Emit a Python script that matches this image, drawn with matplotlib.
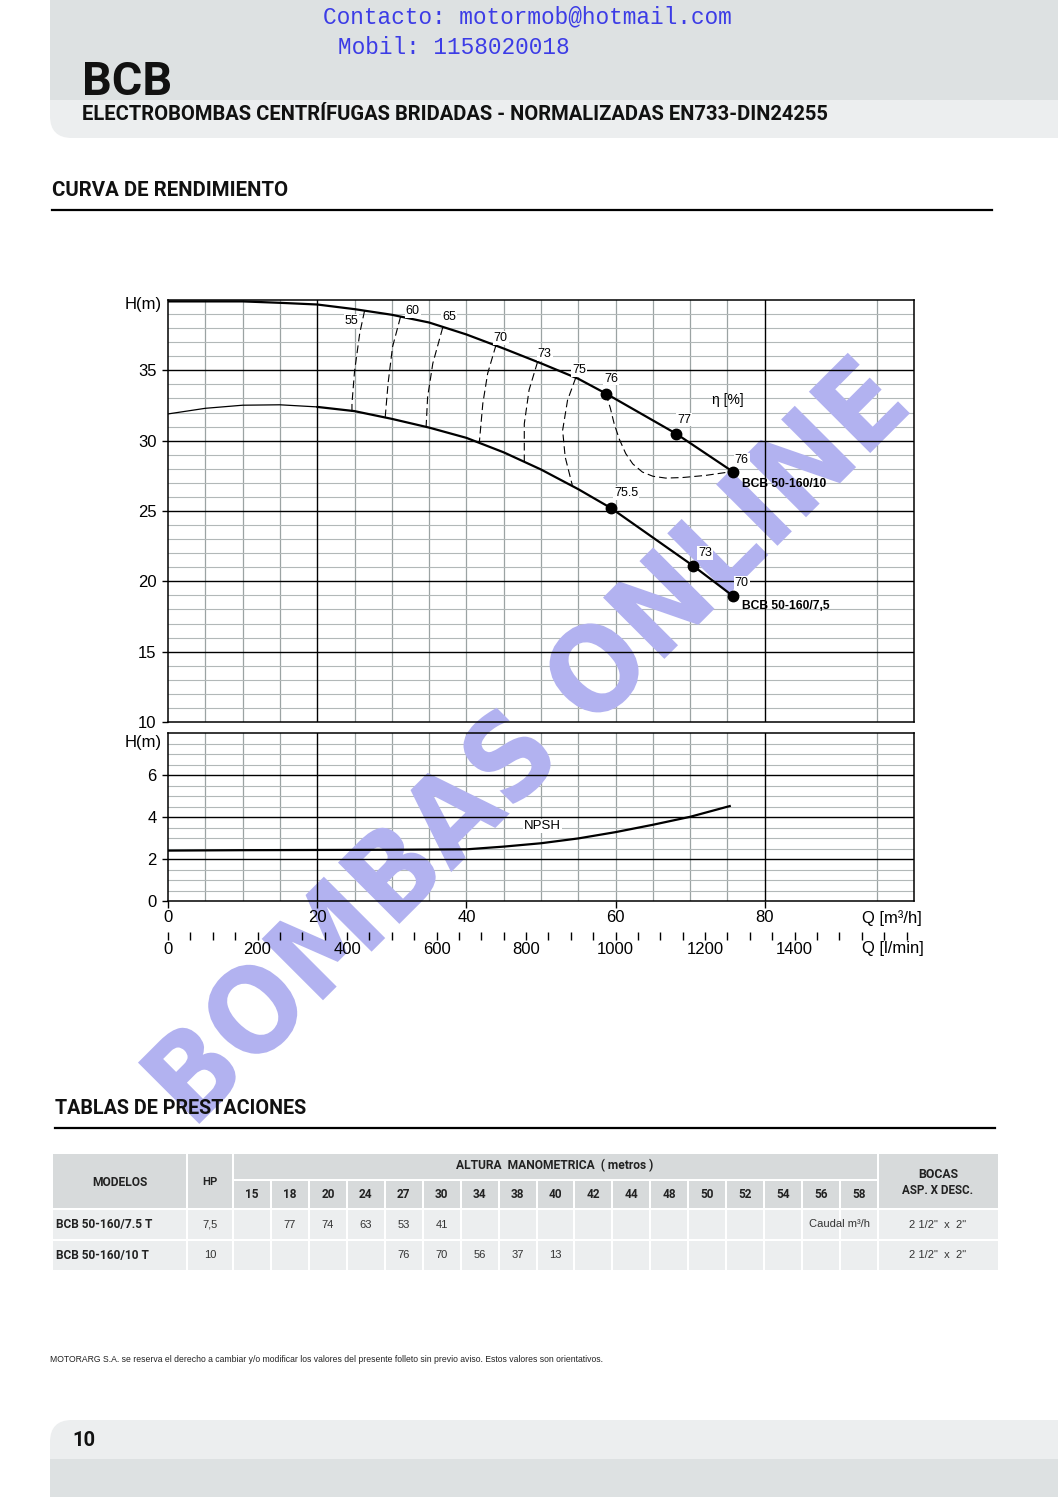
import numpy as np
import matplotlib
matplotlib.use('Agg')
import matplotlib.pyplot as plt
from matplotlib.patches import Rectangle, FancyBboxPatch, PathPatch
from matplotlib.textpath import TextPath
from matplotlib.font_manager import FontProperties
import matplotlib.transforms as mtransforms

plt.rcParams['font.family'] = ['Liberation Sans', 'DejaVu Sans']

# ---------------- DATA ----------------
# Pump curve BCB 50-160/10 (Q m3/h, H m)
q_10 = [0, 5, 10, 15, 20, 25, 30, 35, 40, 45, 50, 55, 58.7, 68.1, 75.7]
h_10 = [39.9, 39.9, 39.9, 39.8, 39.68, 39.35, 38.95, 38.4, 37.55, 36.55, 35.5, 34.4, 33.35, 30.5, 27.8]
# Pump curve BCB 50-160/7,5
q_75 = [0, 5, 10, 15, 20, 25, 30, 35, 40, 45, 50, 55, 59.4, 70.4, 75.7]
h_75 = [31.9, 32.3, 32.52, 32.55, 32.4, 32.1, 31.55, 30.93, 30.2, 29.17, 27.95, 26.55, 25.2, 21.1, 18.97]
# marked efficiency points
mq_10 = [58.7, 68.1, 75.7]; mh_10 = [33.35, 30.5, 27.8]; me_10 = ['76', '77', '76']
mq_75 = [59.4, 70.4, 75.7]; mh_75 = [25.2, 21.1, 18.97]; me_75 = ['75.5', '73', '70']
# iso-efficiency lines
iso_labels = ['55', '60', '65', '70', '73', '75']
iso_q = [[26.35, 25.7, 25.0, 24.66, 24.66],
         [31.17, 30.1, 29.5, 29.12],
         [36.83, 35.5, 34.8, 34.6],
         [43.97, 42.85, 42.2, 41.74],
         [49.54, 48.4, 47.76, 47.76],
         [54.67, 53.56, 52.9, 53.24, 54.2]]
iso_h = [[39.24, 37.63, 34.9, 32.64, 32.05],
         [38.81, 36.67, 34.07, 31.69],
         [38.05, 35.5, 33.1, 30.98],
         [36.8, 34.78, 32.64, 29.91],
         [35.6, 33.6, 31.2, 28.55],
         [34.49, 32.88, 30.74, 28.84, 26.82]]
iso_lab_q = [24.6, 32.8, 37.7, 44.6, 50.5, 55.1]
iso_lab_h = [38.53, 39.24, 38.77, 37.3, 36.13, 35.0]
loop76_q = [58.7, 59.3, 59.8, 60.5, 61.36, 62.3, 63.59, 65.0, 66.71, 69.0, 72.07, 75.18]
loop76_h = [33.35, 32.3, 31.22, 30.1, 29.08, 28.35, 27.77, 27.47, 27.34, 27.38, 27.53, 27.77]
# NPSH
npsh_q = [0, 10, 20, 30, 40, 45, 50, 55, 60, 65, 70, 75.3]
npsh_h = [2.4, 2.42, 2.43, 2.44, 2.46, 2.59, 2.75, 2.98, 3.28, 3.63, 4.01, 4.52]

# Table
heights = [15, 18, 20, 24, 27, 30, 34, 38, 40, 42, 44, 48, 50, 52, 54, 56, 58]
models = ['BCB 50-160/7.5 T', 'BCB 50-160/10 T']
hp = ['7,5', '10']
flows = [[None, 77, 74, 63, 53, 41] + [None] * 11,
         [None] * 4 + [76, 70, 56, 37, 13] + [None] * 8]
bocas = ['2 1/2"  x  2"', '2 1/2"  x  2"']

# ---------------- FIGURE ----------------
W, H = 1058, 1497
fig = plt.figure(figsize=(W / 100, H / 100), dpi=100)
fig.patch.set_facecolor('white')
DARK = '#dde1e2'
LIGHT = '#eceeef'
GRID_V = '#9ba3a3'
GRID_H = '#b2b8b8'
WM = '#b2b2f0'


def rect_px(x0, y0, x1, y1):
    return [x0 / W, 1 - y1 / H, (x1 - x0) / W, (y1 - y0) / H]


def page_axes(z):
    a = fig.add_axes([0, 0, 1, 1], zorder=z)
    a.set_xlim(0, W)
    a.set_ylim(H, 0)
    a.axis('off')
    return a


bg = page_axes(0)
top = page_axes(5)
renderer = fig.canvas.get_renderer()


def fit(t, target):
    w = t.get_window_extent(renderer).width
    t.set_fontsize(t.get_fontsize() * target / w)


# header bands
bg.add_patch(FancyBboxPatch((50, -80), 1200, 218, boxstyle='round,pad=0,rounding_size=22',
                            fc=LIGHT, ec='none'))
bg.add_patch(Rectangle((50, -5), 1100, 105, fc=DARK, ec='none'))
# footer bands
bg.add_patch(FancyBboxPatch((50, 1420), 1200, 200, boxstyle='round,pad=0,rounding_size=22',
                            fc=LIGHT, ec='none'))
bg.add_patch(Rectangle((50, 1459), 1100, 60, fc=DARK, ec='none'))

t = top.text(323, 17, 'Contacto: motormob@hotmail.com', family='Liberation Mono',
             color='#3c3ce6', fontsize=16, ha='left', va='center')
fit(t, 412)
t = top.text(338, 47, 'Mobil: 1158020018', family='Liberation Mono',
             color='#3c3ce6', fontsize=16, ha='left', va='center')
fit(t, 233)
t = top.text(82, 95, 'BCB', family='Roboto', weight='bold', fontsize=33,
             ha='left', va='baseline', color='#111111')
fit(t, 90)
t = top.text(82, 114, 'ELECTROBOMBAS CENTRÍFUGAS BRIDADAS - NORMALIZADAS EN733-DIN24255',
             family='Roboto', weight='bold', fontsize=14, ha='left', va='center', color='#111111')
fit(t, 748)
t = top.text(52, 190, 'CURVA DE RENDIMIENTO', family='Roboto', weight='bold', fontsize=13,
             ha='left', va='center', color='#111111')
fit(t, 234)
top.plot([52, 992], [210, 210], color='black', lw=1.6)
t = top.text(55, 1109, 'TABLAS DE PRESTACIONES', family='Roboto', weight='bold', fontsize=13,
             ha='left', va='center', color='#111111')
fit(t, 251)
top.plot([55, 995], [1128, 1128], color='black', lw=1.6)

# ---------------- CHART: H-Q ----------------
v_minor = [5, 10, 15, 25, 30, 35, 40, 45, 50, 55, 60, 65, 70, 75, 95]
v_major = [20, 80]
main_box = rect_px(168, 300, 914, 722)
npsh_box = rect_px(168, 733, 914, 901)

axm_g = fig.add_axes(main_box, zorder=1)
axm_g.set_xlim(0, 100); axm_g.set_ylim(10, 40); axm_g.axis('off')
for v in v_minor:
    axm_g.axvline(v, color=GRID_V, lw=0.9)
for hh in range(11, 40):
    if hh % 5:
        axm_g.axhline(hh, color=GRID_H, lw=0.8)

axn_g = fig.add_axes(npsh_box, zorder=1)
axn_g.set_xlim(0, 100); axn_g.set_ylim(0, 8); axn_g.axis('off')
for v in v_minor:
    axn_g.axvline(v, color=GRID_V, lw=0.9)
for hh in np.arange(0.5, 8, 0.5):
    if hh % 2:
        axn_g.axhline(hh, color=GRID_H, lw=0.8)

# watermark
wm = fig.add_axes([0, 0, 1, 1], zorder=2)
wm.set_xlim(0, W); wm.set_ylim(0, H); wm.axis('off')
tp = TextPath((0, 0), 'BOMBAS ONLINE', size=100,
              prop=FontProperties(family='DejaVu Sans', weight='bold'))
ext = tp.get_extents()
tr = (mtransforms.Affine2D()
      .translate(-(ext.x0 + ext.width / 2), -(ext.y0 + ext.height / 2))
      .scale(1005 / ext.width, 90 / ext.height)
      .rotate_deg(45)
      .translate(524, H - 738))
wm.add_patch(PathPatch(tr.transform_path(tp), fc=WM, ec='none'))

# overlay axes
axm = fig.add_axes(main_box, zorder=3)
axm.set_facecolor('none')
axm.set_xlim(0, 100); axm.set_ylim(10, 40)
for v in v_major:
    axm.axvline(v, color='black', lw=1.0, zorder=1)
for hh in [15, 20, 25, 30, 35]:
    axm.axhline(hh, color='black', lw=1.0, zorder=1)
axm.set_xticks([])
axm.set_yticks([10, 15, 20, 25, 30, 35])
axm.tick_params(axis='y', direction='out', length=4, width=1, labelsize=12, pad=4.3)
for s in axm.spines.values():
    s.set_linewidth(1.1)

# curves
axm.plot(q_10, h_10, color='black', lw=1.6, zorder=4, solid_capstyle='round')
axm.plot(q_75[:5], h_75[:5], color='black', lw=0.9, zorder=4)
axm.plot(q_75[4:], h_75[4:], color='black', lw=1.6, zorder=4, solid_capstyle='round')
dash = (0, (7, 3.6))
for qq, hh in zip(iso_q, iso_h):
    axm.plot(qq, hh, color='black', lw=0.8, ls=dash, zorder=3)
axm.plot(loop76_q, loop76_h, color='black', lw=0.8, ls=dash, zorder=3)
box = dict(fc='white', ec='none', pad=0.6)
for lab, qx, hy in zip(iso_labels, iso_lab_q, iso_lab_h):
    axm.text(qx, hy, lab, fontsize=9, ha='center', va='center', bbox=box, zorder=5)

axm.plot(mq_10, mh_10, 'o', color='black', ms=7.5, zorder=6)
axm.plot(mq_75, mh_75, 'o', color='black', ms=7.5, zorder=6)
offs_10 = [(3.6, 10.8), (5.8, 10.1), (6.5, 8.6)]
offs_75 = [(10.8, 10.8), (8.6, 9.4), (6.5, 9.4)]
for qx, hy, lab, off in zip(mq_10, mh_10, me_10, offs_10):
    axm.annotate(lab, (qx, hy), xytext=off, textcoords='offset points', fontsize=9,
                 ha='center', va='center', bbox=box, zorder=5)
for qx, hy, lab, off in zip(mq_75, mh_75, me_75, offs_75):
    axm.annotate(lab, (qx, hy), xytext=off, textcoords='offset points', fontsize=9,
                 ha='center', va='center', bbox=box, zorder=5)
axm.text(75.1, 32.88, 'η [%]', fontsize=10, ha='center', va='center', zorder=5)
axm.text(76.96, 26.94, 'BCB 50-160/10', fontsize=8.7, weight='bold', ha='left',
         va='center', zorder=5)
axm.text(76.96, 18.28, 'BCB 50-160/7,5', fontsize=8.7, weight='bold', ha='left',
         va='center', zorder=5)

# ---------------- CHART: NPSH ----------------
axn = fig.add_axes(npsh_box, zorder=3)
axn.set_facecolor('none')
axn.set_xlim(0, 100); axn.set_ylim(0, 8)
for v in v_major:
    axn.axvline(v, color='black', lw=1.0, zorder=1)
for hh in [2, 4, 6]:
    axn.axhline(hh, color='black', lw=1.0, zorder=1)
axn.set_yticks([0, 2, 4, 6])
axn.set_xticks([0, 20, 40, 60, 80])
axn.tick_params(axis='y', direction='out', length=4, width=1, labelsize=12, pad=4.3)
axn.tick_params(axis='x', direction='out', length=5, width=1, labelsize=12, pad=1.5)
for s in axn.spines.values():
    s.set_linewidth(1.1)
axn.plot(npsh_q, npsh_h, color='black', lw=1.6, zorder=4)
axn.text(50.2, 3.57, 'NPSH', fontsize=9.5, ha='center', va='center', bbox=box, zorder=5)

# l/min axis
axl = fig.add_axes(rect_px(168, 931, 914, 932), zorder=3)
axl.set_facecolor('none')
axl.set_xlim(0, 100 * 1000 / 60)
axl.set_yticks([])
for s in axl.spines.values():
    s.set_visible(False)
lmin_major = [0, 200, 400, 600, 800, 1000, 1200, 1400]
lmin_minor = [v for v in range(0, 1651, 50) if v not in lmin_major]
axl.set_xticks(lmin_major)
axl.set_xticklabels([str(v) for v in lmin_major])
axl.set_xticks(lmin_minor, minor=True)
axl.tick_params(axis='x', which='both', direction='out', length=6, width=1, labelsize=12, pad=1.5)

top.text(162, 304, 'H(m)', fontsize=12, ha='right', va='center')
top.text(162, 743, 'H(m)', fontsize=12, ha='right', va='center')
top.text(862, 918, 'Q [m³/h]', fontsize=12, ha='left', va='center')
top.text(862, 949, 'Q [l/min]', fontsize=12, ha='left', va='center')

# ---------------- TABLE ----------------
HDR = '#d7dadb'
ROW = '#eceeef'
a0, a1 = 232, 877
aw = (a1 - a0) / len(heights)
y_h0, y_hm, y_h1 = 1154, 1179, 1208
rows_y = [(1210, 1239), (1241, 1270)]


def cell(x0, y0, x1, y1, c):
    bg.add_patch(Rectangle((x0, y0), x1 - x0, y1 - y0, fc=c, ec='none'))


cell(53, y_h0, 186, y_h1, HDR)
cell(188, y_h0, 232, y_h1, HDR)
cell(234, y_h0, 877, y_hm, HDR)
cell(879, y_h0, 998, y_h1, HDR)
for i in range(len(heights)):
    cell(a0 + i * aw + 2, y_hm + 2, a0 + (i + 1) * aw, y_h1, HDR)
for (r0, r1) in rows_y:
    cell(53, r0, 186, r1, ROW)
    cell(188, r0, 232, r1, ROW)
    cell(879, r0, 998, r1, ROW)
    for i in range(len(heights)):
        cell(a0 + i * aw + 2, r0, a0 + (i + 1) * aw, r1, ROW)

hfont = dict(family='Roboto', weight='bold', color='#222222')
t = top.text(120, 1182, 'MODELOS', fontsize=7.5, ha='center', va='center', **hfont)
fit(t, 55)
t = top.text(210, 1182, 'HP', fontsize=7.5, ha='center', va='center', **hfont)
fit(t, 15)
t = top.text(555, 1166, 'ALTURA  MANOMETRICA  ( metros )', fontsize=7.5, ha='center',
             va='center', **hfont)
fit(t, 197)
t = top.text(938, 1175, 'BOCAS', fontsize=7.5, ha='center', va='center', **hfont)
fit(t, 40)
t = top.text(938, 1190, 'ASP. X DESC.', fontsize=7.5, ha='center', va='center', **hfont)
fit(t, 71)
for i, hv in enumerate(heights):
    top.text(a0 + (i + 0.5) * aw + 1, 1194, str(hv), fontsize=8.5, ha='center',
             va='center', **hfont)
for r, (r0, r1) in enumerate(rows_y):
    yc = (r0 + r1) / 2
    t = top.text(56, yc, models[r], fontsize=7.5, ha='left', va='center', **hfont)
    fit(t, 96 if r == 0 else 93)
    top.text(210, yc, hp[r], fontsize=8, ha='center', va='center', color='#333333')
    for i, f in enumerate(flows[r]):
        if f is not None:
            top.text(a0 + (i + 0.5) * aw + 1, yc, str(f), fontsize=8, ha='center',
                     va='center', color='#333333')
    top.text(938, yc, bocas[r], fontsize=8, ha='center', va='center', color='#333333')
top.text(a0 + 16 * aw, rows_y[0][0] + 14, 'Caudal m³/h', fontsize=8, ha='center',
         va='center', color='#333333')

# disclaimer / footer
t = top.text(50, 1360, 'MOTORARG S.A. se reserva el derecho a cambiar y/o modificar los valores '
             'del presente folleto sin previo aviso. Estos valores son orientativos.',
             fontsize=6, ha='left', va='center', color='#222222')
fit(t, 557)
t = top.text(72, 1441, '10', family='Roboto', weight='bold', fontsize=14, ha='left',
             va='center', color='#111111')
fit(t, 23)

fig.savefig('out.png', dpi=100)
